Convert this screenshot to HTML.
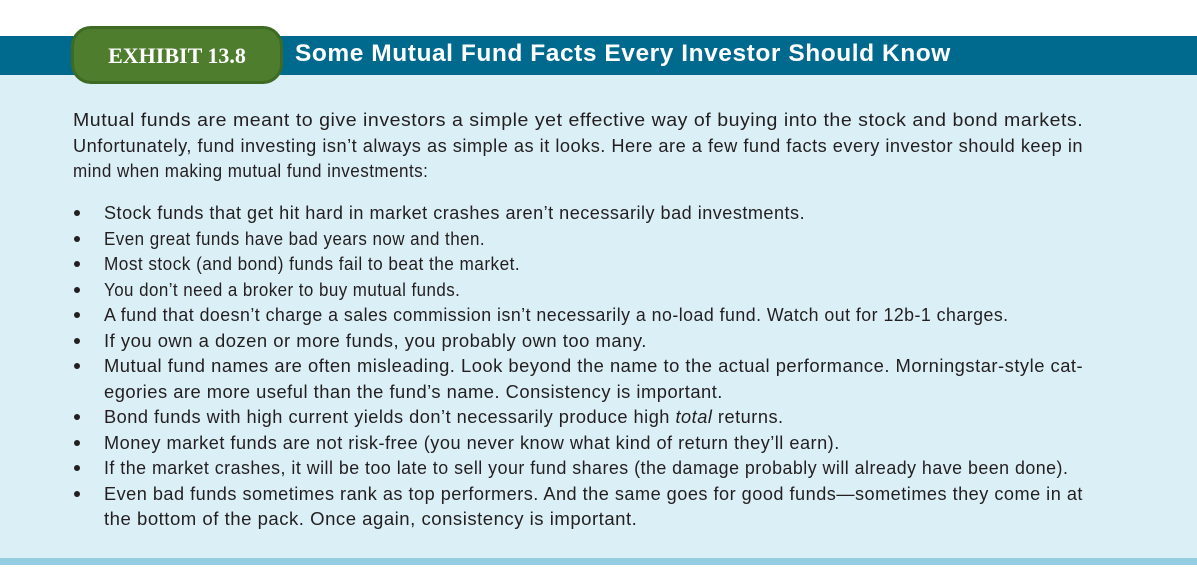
<!DOCTYPE html>
<html><head><meta charset="utf-8"><style>
body{margin:0;width:1197px;height:579px;background:#fff;position:relative;overflow:hidden;font-family:"Liberation Sans",Arial,sans-serif;}
#bar{position:absolute;left:0;top:36px;width:1197px;height:39px;background:#006a8e;}
#panel{position:absolute;left:0;top:75px;width:1197px;height:483px;background:#dbeff6;}
#bottom{position:absolute;left:0;top:558px;width:1197px;height:7px;background:#95cde0;}
#pill{position:absolute;left:71px;top:26px;width:206px;height:52px;background:#4e7d2e;border:3px solid #3d6b24;border-radius:20px;color:#fff;font-family:"Liberation Serif",serif;font-weight:bold;font-size:22px;line-height:54px;text-align:center;}
#title{position:absolute;left:295px;top:38px;color:#fff;font-weight:bold;font-size:24.5px;letter-spacing:0.55px;line-height:32px;white-space:nowrap;}
.t{position:absolute;left:73px;font-size:18.4px;letter-spacing:0.5px;color:#231f20;white-space:nowrap;line-height:25.5px;}
ul{position:absolute;left:73px;top:200px;margin:0;padding:0;list-style:none;font-size:18.4px;letter-spacing:0.5px;color:#231f20;line-height:25.5px;}
li{position:relative;padding-left:31px;white-space:nowrap;}
li:before{content:"";position:absolute;left:1px;top:10px;width:6px;height:6px;border-radius:50%;background:#231f20;}
.ln{display:inline-block;transform-origin:0 50%;}
</style></head><body>
<div id="bar"></div>
<div id="panel"></div>
<div id="bottom"></div>
<div id="pill">EXHIBIT 13.8</div>
<div id="title">Some Mutual Fund Facts Every Investor Should Know</div>
<div class="t" style="top:107px"><span class="ln" data-r="1083">Mutual funds are meant to give investors a simple yet effective way of buying into the stock and bond markets.</span><br><span class="ln" data-r="1083">Unfortunately, fund investing isn’t always as simple as it looks. Here are a few fund facts every investor should keep in</span><br><span class="ln" data-r="428">mind when making mutual fund investments:</span></div>
<ul>
<li><span class="ln" data-r="805">Stock funds that get hit hard in market crashes aren’t necessarily bad investments.</span></li>
<li><span class="ln" data-r="485">Even great funds have bad years now and then.</span></li>
<li><span class="ln" data-r="520">Most stock (and bond) funds fail to beat the market.</span></li>
<li><span class="ln" data-r="460">You don’t need a broker to buy mutual funds.</span></li>
<li><span class="ln" data-r="1009">A fund that doesn’t charge a sales commission isn’t necessarily a no-load fund. Watch out for 12b-1 charges.</span></li>
<li><span class="ln" data-r="647">If you own a dozen or more funds, you probably own too many.</span></li>
<li><span class="ln" data-r="1083">Mutual fund names are often misleading. Look beyond the name to the actual performance. Morningstar-style cat-</span><br><span class="ln" data-r="723">egories are more useful than the fund’s name. Consistency is important.</span></li>
<li><span class="ln" data-r="784">Bond funds with high current yields don’t necessarily produce high <i>total</i> returns.</span></li>
<li><span class="ln" data-r="840">Money market funds are not risk-free (you never know what kind of return they’ll earn).</span></li>
<li><span class="ln" data-r="1068">If the market crashes, it will be too late to sell your fund shares (the damage probably will already have been done).</span></li>
<li><span class="ln" data-r="1083">Even bad funds sometimes rank as top performers. And the same goes for good funds—sometimes they come in at</span><br><span class="ln" data-r="637">the bottom of the pack. Once again, consistency is important.</span></li>
</ul>
<script>
document.querySelectorAll('.ln').forEach(function(s){
  var left=s.getBoundingClientRect().left;
  var w=s.offsetWidth;
  var target=parseFloat(s.getAttribute('data-r'))-left;
  if(w>0) s.style.transform='scaleX('+(target/w)+')';
});
</script>
</body></html>
